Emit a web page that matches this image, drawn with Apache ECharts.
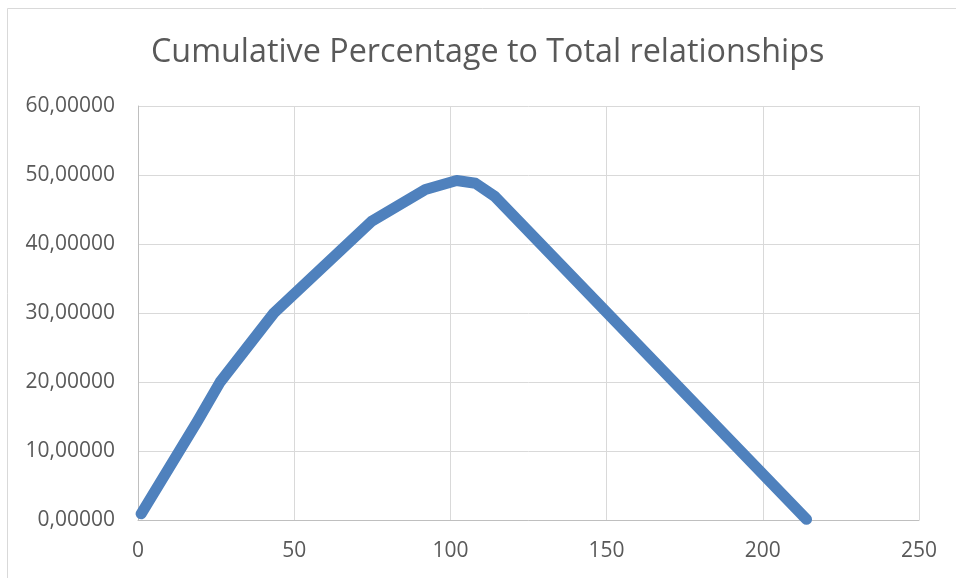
<!DOCTYPE html>
<html><head><meta charset="utf-8">
<script src="https://cdn.jsdelivr.net/npm/echarts@6/dist/echarts.min.js"></script>
<style>html,body{margin:0;padding:0;background:#fff;}#c{width:956px;height:578px;}</style>
</head><body><div id="c"></div>
<script>
const titleText = "Cumulative Percentage to Total relationships";
const xValues = [1, 19, 26.3, 43.5, 74.8, 92, 102, 108, 114.2, 214];
const yValues = [0.9, 14.3, 20.0, 30.0, 43.3, 47.9, 49.2, 48.8, 46.9, 0.1];
const xTicks = [0, 50, 100, 150, 200, 250];
const yTicks = [0, 10, 20, 30, 40, 50, 60];

const chart = echarts.init(document.getElementById('c'), null, {renderer: 'canvas'});
const font = '"Open Sans", sans-serif';
chart.setOption({
  animation: false,
  backgroundColor: '#fff',
  graphic: [{type: 'rect', shape: {x: 7.5, y: 8.5, width: 1000, height: 1000},
    style: {fill: 'none', stroke: '#d9d9d9', lineWidth: 1}, z: -1}],
  title: {text: titleText, left: 146, top: 32,
    textStyle: {fontFamily: font, fontSize: 32.3, fontWeight: 'normal', color: '#595959'}},
  grid: {left: 138, right: 37, top: 106, bottom: 58},
  xAxis: {type: 'value', min: xTicks[0], max: xTicks[xTicks.length-1], interval: 50,
    axisLine: {show: true, lineStyle: {color: '#bfbfbf', width: 1}},
    axisTick: {show: false},
    splitLine: {show: true, lineStyle: {color: '#d9d9d9', width: 1}},
    axisLabel: {fontFamily: font, fontSize: 21, color: '#595959', margin: 21}},
  yAxis: {type: 'value', min: yTicks[0], max: yTicks[yTicks.length-1], interval: 10,
    axisLine: {show: true, lineStyle: {color: '#bfbfbf', width: 1}},
    axisTick: {show: false},
    splitLine: {show: true, lineStyle: {color: '#d9d9d9', width: 1}},
    axisLabel: {fontFamily: font, fontSize: 21, color: '#595959', margin: 23,
      formatter: v => v.toFixed(5).replace('.', ',')}},
  series: [{type: 'line', data: xValues.map((x, i) => [x, yValues[i]]),
    showSymbol: false, symbol: 'none',
    lineStyle: {color: '#4f81bd', width: 11, cap: 'round', join: 'round'}}]
});
</script></body></html>
